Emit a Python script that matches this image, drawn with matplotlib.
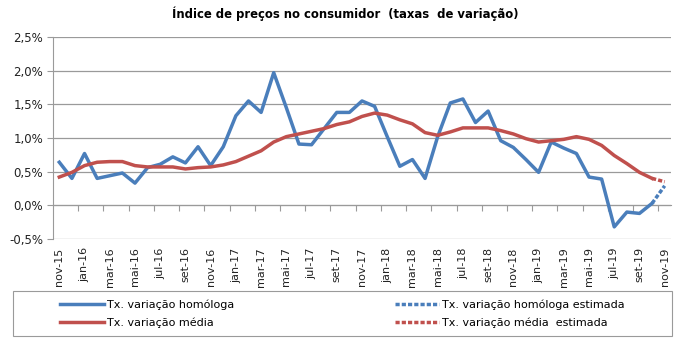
import matplotlib
matplotlib.use('Agg')
import matplotlib.pyplot as plt
from matplotlib.lines import Line2D
from matplotlib.patches import Rectangle
from matplotlib.ticker import FuncFormatter

#--- dados (em %), nov-15 ... out-19 observados, nov-19 estimado
rotulos = ['nov-15', 'jan-16', 'mar-16', 'mai-16', 'jul-16', 'set-16', 'nov-16',
           'jan-17', 'mar-17', 'mai-17', 'jul-17', 'set-17', 'nov-17',
           'jan-18', 'mar-18', 'mai-18', 'jul-18', 'set-18', 'nov-18',
           'jan-19', 'mar-19', 'mai-19', 'jul-19', 'set-19', 'nov-19']
homologa = [0.64, 0.40, 0.77, 0.40, 0.44, 0.48, 0.33, 0.56, 0.61, 0.72,
            0.63, 0.87, 0.59, 0.87, 1.33, 1.55, 1.38, 1.97, 1.45, 0.91,
            0.90, 1.14, 1.38, 1.38, 1.55, 1.47, 1.02, 0.58, 0.68, 0.40,
            1.02, 1.52, 1.58, 1.23, 1.40, 0.96, 0.86, 0.68, 0.49, 0.94,
            0.85, 0.77, 0.42, 0.39, -0.32, -0.10, -0.12, 0.03]
homologa_est = 0.29
media = [0.42, 0.49, 0.59, 0.64, 0.65, 0.65, 0.59, 0.57, 0.57, 0.57,
         0.54, 0.56, 0.57, 0.60, 0.65, 0.73, 0.81, 0.94, 1.02, 1.06,
         1.10, 1.14, 1.20, 1.24, 1.32, 1.37, 1.34, 1.27, 1.21, 1.08,
         1.04, 1.09, 1.15, 1.15, 1.15, 1.11, 1.06, 0.99, 0.94, 0.96,
         0.98, 1.02, 0.98, 0.89, 0.74, 0.62, 0.49, 0.40]
media_est = 0.35

azul = '#4a7ebb'
vermelho = '#c0504d'
cinza = '#9a9a9a'
lw = 2.5
pontilhado = (0, (1.2, 0.6))

fig = plt.figure(figsize=(6.8, 3.4), dpi=100)
ax = fig.add_axes([53/680, 1-239/340, (671-53)/680, (239-37)/340])

n = len(homologa)
x = list(range(n))
ax.plot(x, homologa, color=azul, lw=lw, solid_joinstyle='round', zorder=3)
ax.plot(x, media, color=vermelho, lw=lw, solid_joinstyle='round', zorder=3)
ax.plot([n-1, n], [homologa[-1], homologa_est], color=azul, lw=lw, linestyle=pontilhado, zorder=3)
ax.plot([n-1, n], [media[-1], media_est], color=vermelho, lw=lw, linestyle=pontilhado, zorder=3)

ax.set_xlim(-0.5, n+0.5)
ax.set_ylim(-0.5, 2.5)
ax.set_yticks([-0.5, 0, 0.5, 1.0, 1.5, 2.0, 2.5])
ax.yaxis.set_major_formatter(FuncFormatter(lambda v, p: ('%.1f%%' % v).replace('.', ',')))
ax.grid(axis='y', color=cinza, lw=0.9)
ax.set_axisbelow(True)
for s in ['top', 'right', 'bottom']:
  ax.spines[s].set_visible(False)
ax.spines['left'].set_color(cinza)
ax.tick_params(axis='y', length=4, color=cinza, labelsize=8.5, labelcolor='#222222', pad=3)

ax.set_xticks(list(range(0, n+1, 2)))
ax.set_xticklabels(rotulos, rotation=90, fontsize=8, color='#222222')
ax.tick_params(axis='x', length=0, pad=6)

#--- eixo das categorias no 0%
eixo = ax.secondary_xaxis(0.5/3.0)
eixo.set_xticks([i + 1.5 for i in range(0, n-1, 2)])
eixo.tick_params(axis='x', length=4, color=cinza, labelbottom=False, direction='out')
eixo.spines['bottom'].set_color(cinza)

fig.text(345/680, 1-14/340, 'Índice de preços no consumidor  (taxas  de variação)',
         ha='center', va='center', fontsize=8.4, fontweight='bold')

#--- legenda
fig.patches.append(Rectangle((13/680, 1-336/340), 659/680, 45/340, transform=fig.transFigure,
                             fill=False, edgecolor=cinza, lw=0.8))
h1 = [Line2D([], [], color=azul, lw=lw), Line2D([], [], color=vermelho, lw=lw)]
h2 = [Line2D([], [], color=azul, lw=lw, linestyle=pontilhado),
      Line2D([], [], color=vermelho, lw=lw, linestyle=pontilhado)]
kw = dict(loc='upper left', frameon=False, fontsize=8, borderpad=0, borderaxespad=0,
          handlelength=4.0, handletextpad=0.2, labelspacing=0.75)
fig.legend(h1, ['Tx. variação homóloga', 'Tx. variação média'],
           bbox_to_anchor=(60/680, 1-299/340), **kw)
fig.legend(h2, ['Tx. variação homóloga estimada', 'Tx. variação média  estimada'],
           bbox_to_anchor=(395/680, 1-299/340), **kw)

fig.savefig('out.png', dpi=100)
